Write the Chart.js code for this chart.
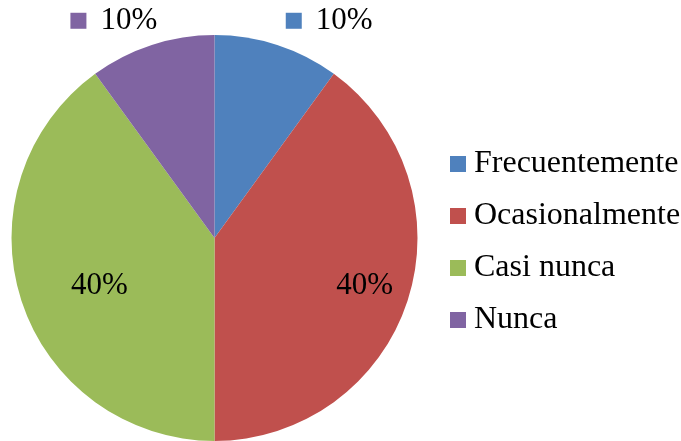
<!DOCTYPE html>
<html>
<head>
<meta charset="utf-8">
<script src="https://cdn.jsdelivr.net/npm/chart.js@4/dist/chart.umd.min.js"></script>
<style>
  html, body { margin: 0; padding: 0; background: #fff; }
  #wrap { width: 681px; height: 441px; position: relative; }
</style>
</head>
<body>
<div id="wrap"><canvas id="pieChart"></canvas></div>
<script>
const categories = ['Frecuentemente', 'Ocasionalmente', 'Casi nunca', 'Nunca'];
const values = [10, 40, 40, 10];
const valueLabels = ['10%', '40%', '40%', '10%'];
const sliceColors = ['#4F81BD', '#C0504D', '#9BBB59', '#8064A2'];

const serif = "'Liberation Serif', 'Times New Roman', serif";

// small square key used in the legend (as a point style image)
function keySquare(color) {
    const c = document.createElement('canvas');
    c.width = 16;
    c.height = 16;
    const g = c.getContext('2d');
    g.fillStyle = color;
    g.fillRect(0, 0, 16, 16);
    return c;
}

// pie sits a bit closer to the left edge than the legend leaves room for
const pieShift = {
    id: 'pieShift',
    afterLayout(chart, args, opts) {
        chart.chartArea.left -= opts.left;
        chart.chartArea.width += opts.left;
    }
};

// data labels: inside for the big slices, outside with a colour key for the small ones
const pieLabels = {
    id: 'pieLabels',
    afterDatasetsDraw(chart, args, opts) {
        const ctx = chart.ctx;
        const meta = chart.getDatasetMeta(0);
        ctx.save();
        ctx.font = opts.size + 'px ' + serif;
        ctx.fillStyle = '#000';
        ctx.textBaseline = 'middle';
        meta.data.forEach((arc, i) => {
            const p = arc.getProps(['x', 'y', 'startAngle', 'endAngle', 'outerRadius']);
            const mid = (p.startAngle + p.endAngle) / 2;
            const place = opts.place[i];
            const x = p.x + Math.cos(mid) * p.outerRadius * place.k + place.dx;
            const y = p.y + Math.sin(mid) * p.outerRadius * place.k + place.dy;
            const text = valueLabels[i];
            if (!place.key) {
                ctx.textAlign = 'center';
                ctx.fillText(text, x, y);
                return;
            }
            const tw = ctx.measureText(text).width;
            const groupW = opts.keySize + opts.keyGap + tw;
            const gx = Math.cos(mid) >= 0 ? x : x - groupW;
            ctx.fillStyle = sliceColors[i];
            ctx.fillRect(gx, y - opts.keySize / 2, opts.keySize, opts.keySize);
            ctx.fillStyle = '#000';
            ctx.textAlign = 'left';
            ctx.fillText(text, gx + opts.keySize + opts.keyGap, y);
        });
        ctx.restore();
    }
};

const ctx = document.getElementById('pieChart').getContext('2d');
const pieChart = new Chart(ctx, {
    type: 'pie',
    data: {
        labels: categories,
        datasets: [{
            data: values,
            backgroundColor: sliceColors,
            borderWidth: 0
        }]
    },
    options: {
        responsive: true,
        maintainAspectRatio: false,
        animation: false,
        layout: { padding: { top: 35, bottom: 0, left: 0, right: 0 } },
        plugins: {
            tooltip: { enabled: false },
            pieShift: { left: 8 },
            legend: {
                position: 'right',
                maxWidth: 244,
                title: { display: true, text: '', padding: 0, font: { size: 8, lineHeight: 1 } },
                labels: {
                    usePointStyle: true,
                    pointStyleWidth: 1,
                    boxHeight: 16,
                    padding: 20,
                    color: '#000',
                    font: { family: serif, size: 32 },
                    generateLabels(chart) {
                        const items = Chart.overrides.pie.plugins.legend.labels.generateLabels(chart);
                        items.forEach((item, i) => { item.pointStyle = keySquare(sliceColors[i]); });
                        return items;
                    }
                }
            },
            pieLabels: {
                size: 31,
                keySize: 16,
                keyGap: 14,
                place: [
                    { k: 1.12, dx: 1, dy: -1, key: true },
                    { k: 0.7, dx: 15, dy: 4 },
                    { k: 0.7, dx: 20, dy: 4 },
                    { k: 1.12, dx: 13, dy: -1, key: true }
                ]
            }
        }
    },
    plugins: [pieShift, pieLabels]
});
</script>
</body>
</html>
